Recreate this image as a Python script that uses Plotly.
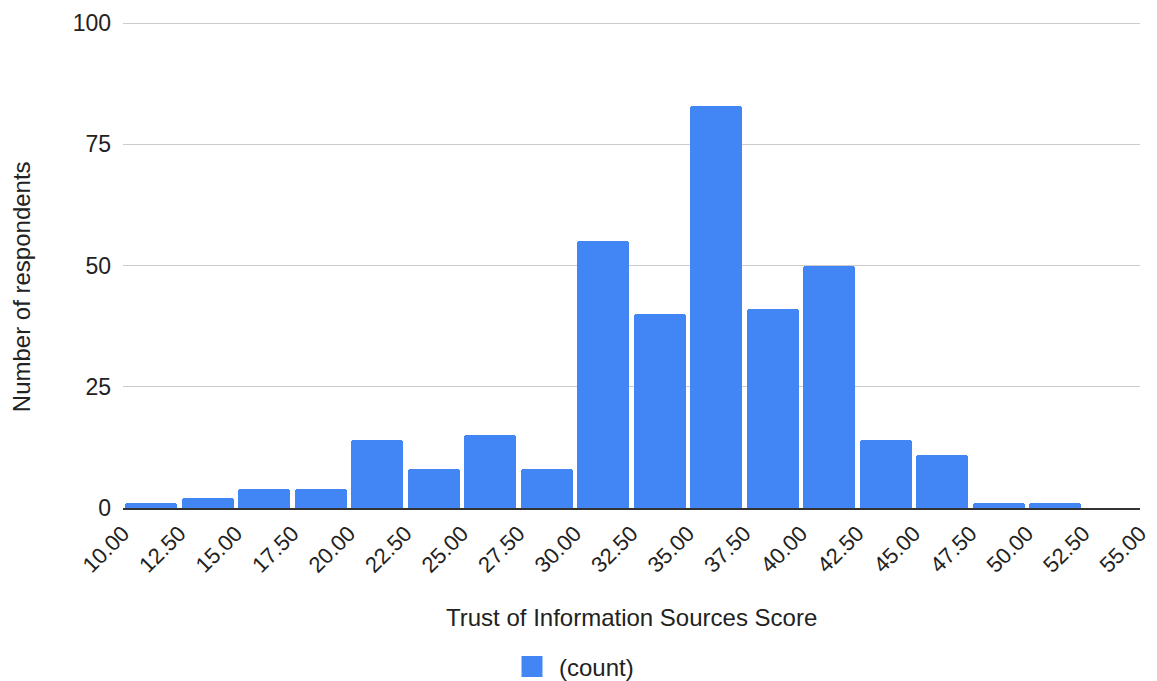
import plotly.graph_objects as go

bin_starts = [10.0, 12.5, 15.0, 17.5, 20.0, 22.5, 25.0, 27.5, 30.0, 32.5,
              35.0, 37.5, 40.0, 42.5, 45.0, 47.5, 50.0, 52.5]
counts = [1, 2, 4, 4, 14, 8, 15, 8, 55, 40, 83, 41, 50, 14, 11, 1, 1, 0]
bin_width = 2.5
tick_values = [10 + 2.5 * i for i in range(19)]
tick_labels = [f"{v:.2f}" for v in tick_values]
y_ticks = [0, 25, 50, 75, 100]

centers = [s + bin_width / 2 for s in bin_starts]
BLUE = "#4285f4"
TXT = "#222222"
font = "Arial, 'Liberation Sans', sans-serif"

fig = go.Figure()
fig.add_trace(go.Bar(
    x=centers, y=counts, width=bin_width * 0.92,
    name="(count)", marker=dict(color=BLUE, line=dict(width=0), cornerradius=3),
    showlegend=False,
))
# legend-only entry with a larger square swatch
fig.add_trace(go.Scatter(
    x=[None], y=[None], mode="markers", name="(count)",
    marker=dict(symbol="square", size=16, color=BLUE, line=dict(color=BLUE, width=5)),
    showlegend=True,
))

# page body has an 8px margin; figure is sized so the plot lands where the reference has it
fig.update_layout(
    width=1149, height=673,
    margin=dict(l=115, r=17, t=14, b=173, autoexpand=False),
    paper_bgcolor="white", plot_bgcolor="white",
    font=dict(family=font, size=22, color=TXT),
    xaxis=dict(
        range=[10, 55], tickmode="array", tickvals=tick_values, ticktext=tick_labels,
        tickangle=-45, showgrid=False, showline=True, linecolor="#333333", linewidth=2,
        ticks="", tickfont=dict(size=22, color=TXT), automargin=False,
        zeroline=False, ticklabelstandoff=2,
    ),
    yaxis=dict(
        range=[0, 100.25], tickmode="array", tickvals=y_ticks, showgrid=True, gridcolor="#cccccc",
        gridwidth=1, zeroline=False, showline=False, ticks="",
        tickfont=dict(size=23, color=TXT), automargin=False, ticklabelstandoff=11,
    ),
    legend=dict(orientation="h", x=(505 - 123) / 1017, xanchor="left", y=-0.327, yanchor="middle",
                font=dict(size=24, color=TXT), itemsizing="trace", itemwidth=44),
    bargap=0,
    annotations=[
        dict(text="Trust of Information Sources Score", xref="paper", yref="paper",
             x=0.5, y=-0.226, xanchor="center", yanchor="middle", showarrow=False,
             font=dict(size=24, color=TXT)),
        dict(text="Number of respondents", xref="paper", yref="paper",
             x=-0.099, y=0.455, xanchor="center", yanchor="middle", showarrow=False,
             textangle=-90, font=dict(size=24, color=TXT)),
    ],
)

fig.write_html("out.html")
